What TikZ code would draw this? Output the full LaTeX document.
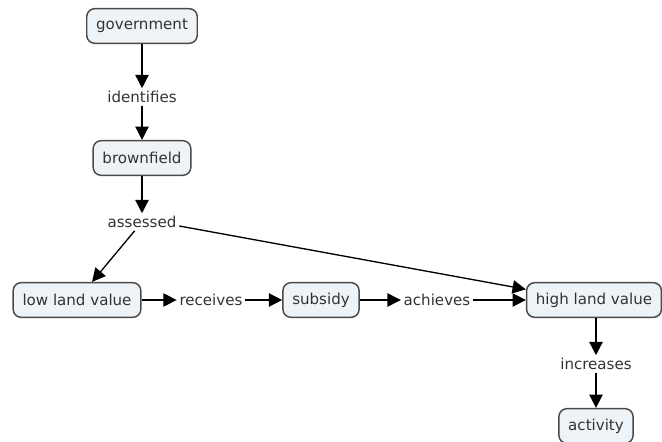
\documentclass[tikz,border=0pt]{standalone}
\usepackage{fontspec}
\setmainfont{DejaVu Sans}
\usetikzlibrary{arrows.meta,positioning}
\definecolor{cfill}{HTML}{EEF3F7}
\definecolor{cline}{HTML}{4A4A4A}
\definecolor{ctext}{HTML}{333333}

\begin{document}
\begin{tikzpicture}[x=0.75pt,y=-0.75pt,
  every node/.style={font=\fontsize{11.3}{13}\selectfont,text=ctext},
  concept/.style={draw=cline,fill=cfill,line width=1.1pt,rounded corners=6pt,
    minimum height=26pt,inner xsep=7pt},
  phrase/.style={inner sep=2pt,fill=white},
  link/.style={-{Triangle[length=10pt,width=10pt]},line width=1pt,black}]
  \useasboundingbox (0,0) rectangle (662,442);

  % concepts
  \node[concept] (gov) at (142,26) {government};
  \node[concept] (brown) at (142,158) {brownfield};
  \node[concept] (lowval) at (77,300) {low land value};
  \node[concept] (subsidy) at (321,300) {subsidy};
  \node[concept] (highval) at (594,300) {high land value};
  \node[concept] (activity) at (596,426) {activity};

  % linking phrases
  \node[phrase] (identifies) at (142,97) {identifies};
  \node[phrase] (assessed) at (142,222) {assessed};
  \node[phrase] (receives) at (211,300) {receives};
  \node[phrase] (achieves) at (437,300) {achieves};
  \node[phrase] (increases) at (596,364) {increases};

  % links
  \draw[link] (gov) -- (identifies);
  \draw[link] (identifies) -- (brown);
  \draw[link] (brown) -- (assessed);
  \draw[link] (assessed) -- (lowval);
  \draw[link] ([yshift=-3pt]assessed.east) -- ([yshift=8pt]highval.west);
  \draw[link] (lowval) -- (receives);
  \draw[link] (receives) -- (subsidy);
  \draw[link] (subsidy) -- (achieves);
  \draw[link] (achieves) -- (highval);
  \draw[link] (highval.south -| increases) -- (increases);
  \draw[link] (increases) -- (activity);
\end{tikzpicture}
\end{document}
